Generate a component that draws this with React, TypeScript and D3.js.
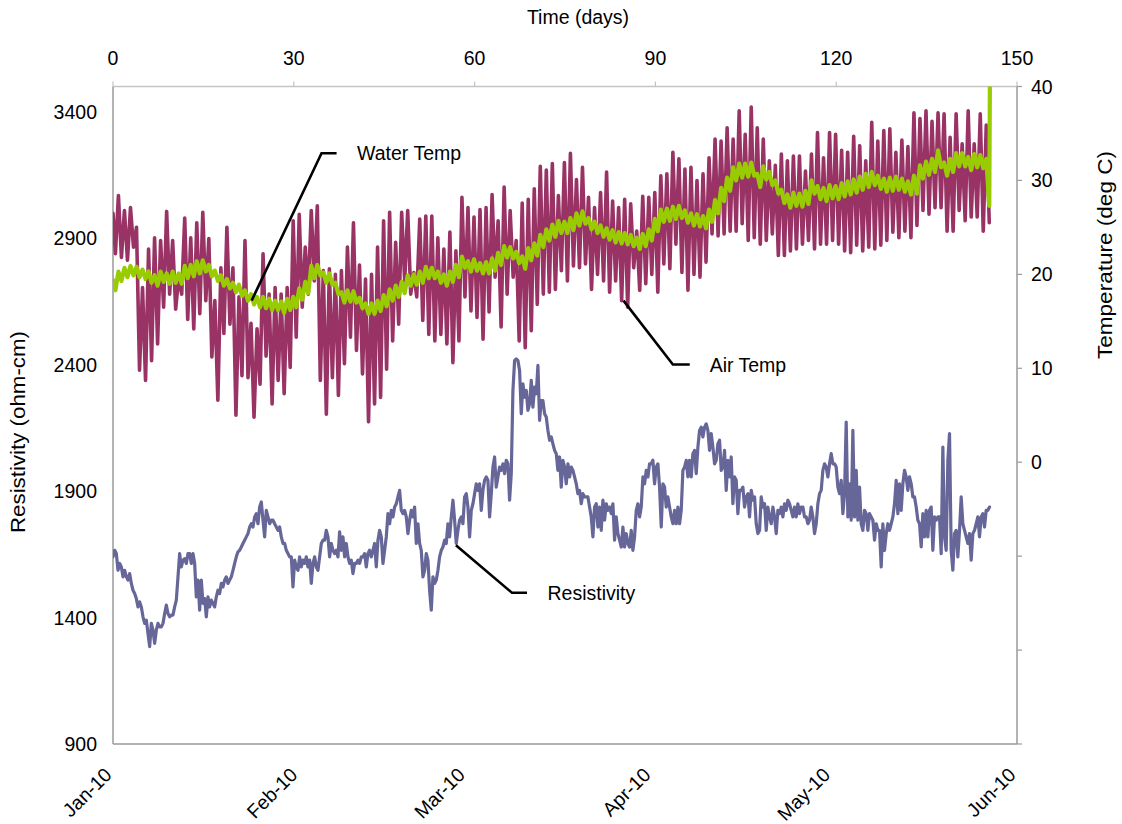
import React from "react";
import * as d3 from "d3";

const W = 1122;
const H = 824;
const PLOT = { left: 113, right: 1017, top: 86.5, bottom: 744 };
const FONT = "'Liberation Sans', Arial, sans-serif";
const FS = 19.5;

// Axis ticks
const dayTicks = [0, 30, 60, 90, 120, 150];
const resistivityTicks = [900, 1400, 1900, 2400, 2900, 3400];
const tempTicks = [-30, -20, -10, 0, 10, 20, 30, 40];
const tempLabelTicks = [0, 10, 20, 30, 40];
const monthTicks = ["2010-01-01", "2010-02-01", "2010-03-01", "2010-04-01", "2010-05-01", "2010-06-01"];

// Daily air temperature extremes (deg C), day 0..145
const airHigh = [
  26.5, 28.4, 26.8, 27.1, 25.0, 18.6, 22.7, 23.9, 23.6, 26.7,
  23.6, 19.7, 26.0, 23.9, 25.5, 26.6, 23.8, 17.2, 20.7, 25.0,
  20.7, 17.6, 23.6, 14.8, 14.2, 22.2, 17.9, 18.6, 17.9, 18.6,
  25.7, 26.4, 22.9, 26.8, 27.3, 20.4, 20.6, 20.0, 20.4, 22.9,
  25.5, 21.0, 19.5, 20.0, 22.9, 25.7, 26.6, 23.4, 26.6, 26.8,
  20.2, 25.9, 26.2, 26.2, 23.9, 22.7, 24.5, 22.5, 28.2, 27.1,
  26.1, 26.9, 27.1, 28.5, 25.7, 29.3, 26.8, 23.6, 27.6, 28.0,
  29.1, 31.5, 31.1, 31.8, 28.4, 31.9, 32.9, 30.1, 31.4, 28.2,
  27.1, 28.7, 30.9, 27.8, 27.1, 28.0, 27.5, 24.6, 28.3, 28.2,
  28.7, 30.5, 30.7, 33.0, 32.3, 31.2, 31.4, 30.0, 30.7, 32.4,
  34.4, 34.2, 35.6, 34.4, 37.4, 34.9, 37.8, 35.6, 34.4, 32.1,
  31.6, 32.8, 32.1, 32.6, 32.6, 31.0, 32.8, 35.1, 32.4, 35.1,
  34.9, 33.2, 33.0, 34.7, 33.7, 32.1, 36.2, 34.2, 35.3, 35.5,
  33.0, 34.3, 33.6, 37.2, 36.6, 37.4, 36.3, 37.2, 37.1, 34.6,
  37.1, 33.9, 37.4, 33.9, 37.1, 35.9,
];
const airLow = [
  22.2, 21.8, 21.5, 22.9, 9.8, 8.7, 10.8, 12.6, 16.5, 17.9,
  16.3, 17.9, 15.2, 14.2, 15.8, 17.2, 11.2, 6.6, 13.7, 14.7,
  5.0, 9.2, 9.0, 4.8, 8.3, 11.3, 6.2, 8.7, 7.3, 10.1,
  13.3, 16.5, 17.9, 19.3, 8.7, 5.1, 9.0, 7.1, 10.5, 13.3,
  11.9, 9.4, 4.3, 6.2, 6.9, 9.9, 12.9, 14.7, 19.3, 17.9,
  17.6, 15.1, 13.6, 12.9, 13.6, 12.6, 10.6, 12.9, 17.6, 16.1,
  15.4, 13.1, 16.0, 19.7, 14.4, 17.9, 19.7, 12.9, 12.2, 14.0,
  16.8, 17.9, 18.1, 18.4, 20.4, 19.3, 20.9, 20.7, 21.1, 18.4,
  20.0, 19.3, 18.1, 19.3, 17.2, 16.5, 20.7, 18.3, 19.0, 20.0,
  18.1, 21.1, 20.6, 23.2, 20.2, 18.3, 20.0, 19.7, 21.3, 24.3,
  24.1, 24.3, 24.6, 24.6, 25.4, 23.6, 23.9, 23.2, 23.6, 24.3,
  22.0, 22.0, 22.5, 22.7, 23.2, 23.6, 22.7, 23.2, 23.2, 23.6,
  23.2, 22.5, 22.3, 23.1, 22.5, 22.9, 22.7, 23.1, 23.6, 24.5,
  23.9, 24.6, 23.9, 25.2, 26.8, 26.4, 27.1, 27.1, 24.6, 24.6,
  26.8, 25.7, 26.1, 26.1, 24.6, 25.5,
];

// Daily water temperature extremes (deg C), day 0..145
const waterHigh = [
  19.4, 20.3, 20.7, 20.9, 20.8, 20.5, 20.3, 19.9, 20.3, 20.1,
  20.3, 20.1, 20.9, 21.0, 21.4, 21.5, 21.0, 20.4, 19.9, 19.5,
  19.1, 18.9, 18.3, 17.9, 17.6, 17.6, 17.4, 17.2, 17.1, 17.4,
  17.6, 18.5, 19.2, 20.9, 21.0, 20.2, 20.1, 19.1, 18.1, 18.3,
  18.2, 17.5, 16.9, 16.9, 17.2, 17.8, 18.4, 18.8, 19.2, 19.9,
  20.0, 20.3, 20.8, 20.7, 20.3, 20.0, 20.3, 21.0, 21.9, 21.4,
  21.6, 21.2, 21.3, 21.7, 22.3, 23.0, 22.9, 22.4, 21.9, 22.8,
  23.3, 24.2, 24.8, 25.3, 25.7, 25.6, 26.0, 26.5, 26.7, 26.0,
  25.6, 25.2, 24.9, 24.7, 24.5, 24.4, 24.2, 23.9, 24.3, 24.8,
  25.9, 26.9, 27.0, 27.2, 27.3, 26.8, 26.5, 26.4, 26.2, 26.9,
  27.9, 29.2, 30.3, 31.4, 31.8, 31.8, 31.9, 30.7, 31.5, 30.9,
  30.0, 29.0, 28.5, 28.7, 28.6, 28.9, 30.0, 29.4, 29.2, 29.5,
  29.4, 29.7, 29.9, 30.1, 30.4, 30.7, 30.9, 30.5, 30.2, 30.3,
  30.4, 30.2, 29.9, 30.5, 31.6, 32.0, 32.3, 33.2, 31.9, 32.3,
  32.9, 32.9, 32.5, 32.8, 32.7, 32.3,
];
const waterLow = [
  18.3, 19.3, 19.7, 19.9, 19.7, 19.5, 19.1, 18.8, 19.2, 19.0,
  19.1, 19.0, 19.6, 19.8, 20.1, 20.3, 19.8, 19.3, 18.8, 18.5,
  18.1, 17.7, 17.2, 16.8, 16.5, 16.4, 16.2, 16.2, 15.9, 16.2,
  16.5, 17.3, 18.0, 19.6, 19.9, 19.1, 18.9, 17.9, 17.0, 17.1,
  17.0, 16.4, 15.8, 15.8, 16.1, 16.6, 17.2, 17.6, 18.0, 18.8,
  18.9, 19.1, 19.6, 19.6, 19.1, 18.8, 19.2, 19.7, 20.7, 20.3,
  20.4, 20.1, 20.1, 20.4, 21.0, 21.8, 21.7, 21.2, 20.6, 21.5,
  22.0, 22.9, 23.6, 24.0, 24.4, 24.4, 24.7, 25.2, 25.4, 24.8,
  24.4, 24.0, 23.7, 23.4, 23.3, 23.2, 23.0, 22.7, 23.0, 23.6,
  24.6, 25.6, 25.7, 25.9, 26.0, 25.5, 25.2, 25.1, 24.9, 25.6,
  26.5, 27.8, 28.9, 30.0, 30.3, 30.4, 30.5, 29.3, 30.1, 29.5,
  28.6, 27.6, 27.1, 27.3, 27.2, 27.5, 28.6, 28.0, 27.8, 28.1,
  28.0, 28.3, 28.5, 28.7, 29.0, 29.3, 29.5, 29.1, 28.8, 28.9,
  29.0, 28.8, 28.5, 28.6, 30.2, 30.6, 30.9, 31.4, 30.5, 30.9,
  31.5, 31.5, 31.1, 31.4, 31.3, 27.3,
];
// Last water reading, logged after the probe came out of the water
const waterLastReading = 40;

// Resistivity readings (ohm-cm), one every RES_STEP days from day 0
const RES_STEP = 0.2765;
const resistivity = [
  1640, 1666, 1653, 1587, 1614, 1600, 1561, 1587, 1561, 1548,
  1574, 1535, 1508, 1495, 1475, 1442, 1462, 1442, 1403, 1377,
  1390, 1337, 1285, 1377, 1350, 1298, 1350, 1377, 1363, 1363,
  1377, 1416, 1449, 1416, 1403, 1410, 1410, 1442, 1469, 1561,
  1653, 1600, 1627, 1633, 1614, 1653, 1653, 1614, 1653, 1614,
  1482, 1548, 1429, 1548, 1456, 1475, 1403, 1482, 1442, 1469,
  1456, 1442, 1482, 1508, 1495, 1535, 1521, 1548, 1561, 1535,
  1548, 1561, 1587, 1614, 1640, 1660, 1666, 1679, 1693, 1706,
  1719, 1732, 1758, 1771, 1758, 1798, 1811, 1771, 1837, 1857,
  1785, 1719, 1824, 1798, 1771, 1785, 1785, 1771, 1758, 1745,
  1758, 1719, 1693, 1693, 1666, 1653, 1640,
  1640, 1521, 1627, 1600, 1587, 1640, 1600, 1627, 1614, 1640,
  1600, 1627, 1535, 1614, 1640, 1600, 1587, 1640, 1693, 1706,
  1706, 1745, 1719, 1640, 1693, 1666, 1653, 1666, 1640, 1739,
  1666, 1719, 1640, 1693, 1640, 1614, 1627, 1574, 1614, 1614,
  1627, 1614, 1640, 1640, 1653, 1600, 1653, 1666, 1640, 1666,
  1693, 1600, 1706, 1745, 1719, 1614, 1666, 1719, 1811, 1771,
  1824, 1798, 1837, 1850, 1877, 1903, 1824, 1811, 1824, 1798,
  1732, 1785, 1824, 1798, 1837, 1693, 1771, 1693, 1666, 1561,
  1587, 1653, 1627, 1508, 1429, 1561, 1535, 1548, 1587, 1640,
  1666, 1679, 1706, 1693, 1771, 1719, 1798, 1864, 1785, 1693,
  1745, 1785, 1798, 1771, 1877, 1890, 1837, 1719,
  1824, 1850, 1890, 1929, 1903, 1929, 1824, 1903, 1943, 1956,
  1943, 1798, 1890, 1995, 2035, 1916, 1956, 1995, 1982, 2008,
  1969, 2022, 2008, 1864, 1969, 2298, 2416, 2423, 2416, 2377,
  2206, 2324, 2272, 2298, 2219, 2245, 2338, 2232, 2311, 2285,
  2397, 2180, 2258, 2258, 2206, 2193, 2140, 2101, 2114, 2087,
  2061, 2048, 1982, 2035, 1916, 2022, 1995, 1929, 2008, 1956,
  1995, 1982, 1956, 1929, 1890, 1903, 1850, 1890, 1877, 1877,
  1877, 1837, 1798, 1719, 1837, 1850, 1758, 1837, 1745, 1864,
  1785, 1850, 1824, 1837, 1811, 1850, 1706, 1798, 1732, 1706,
  1679, 1758, 1679, 1732, 1693, 1679, 1745, 1666, 1719, 1824,
  1850, 1798, 1837, 1956, 1929, 1982, 1956, 2008,
  2008, 2022, 1929, 1995, 2008, 1916, 1758, 1929, 1916, 1837,
  1877, 1837, 1798, 1771, 1824, 1771, 1837, 1771, 1824, 1982,
  1995, 2022, 1956, 2022, 1956, 2048, 2061, 1969, 2074, 2140,
  2153, 2114, 2153, 2166, 2140, 2061, 2127, 2074, 2008, 2022,
  2087, 2101, 1982, 1995, 2061, 1903, 2022, 1956, 2035, 1850,
  1956, 1943, 1811, 1903, 1903, 1916, 1837, 1877, 1890, 1798,
  1903, 1864, 1877, 1771, 1732, 1745, 1877, 1837, 1850, 1745,
  1837, 1798, 1771, 1837, 1798, 1732, 1824, 1811, 1837, 1798,
  1850, 1824, 1864, 1850, 1824, 1798, 1837, 1798, 1850, 1811,
  1837, 1837, 1798, 1798, 1771, 1785, 1837, 1798, 1732, 1771,
  1850, 1890, 1903, 1982, 2008, 1995, 1956, 2008, 2048, 2008,
  2008, 1995, 1916, 1890, 1943, 1811, 1890, 2173, 1798, 1929,
  1785, 2140, 1798, 1982, 1785, 1916, 1771, 1745, 1824, 1811,
  1745, 1811, 1798, 1785, 1706, 1771, 1745, 1745, 1600, 1771,
  1666, 1732, 1771, 1745, 1771, 1798, 1850, 1943, 1811, 1929,
  1824, 1929, 1982, 1956, 1903, 1956, 1929, 1877, 1877, 1837,
  1785, 1771, 1679, 1811, 1719, 1824, 1719, 1824, 1837, 1666,
  1798, 1785, 1798, 1798, 1653, 2074, 1719, 1666, 2022, 2127,
  1666, 1587, 1732, 1745, 1640, 1745, 1877, 1771, 1745, 1719,
  1693, 1732, 1627, 1732, 1745, 1771, 1798, 1719, 1798, 1811,
  1758, 1824, 1824, 1837,
];

type Pt = [number, number];

// Alternating daily high/low pairs: the high comes just before the day mark,
// the low about half a day later.
function dailySwing(high: number[], low: number[]): Pt[] {
  const pts: Pt[] = [];
  high.forEach((h, d) => {
    pts.push([Math.max(0, d - 0.1), h]);
    pts.push([d + 0.4, low[d]]);
  });
  return pts;
}

const airSeries = dailySwing(airHigh, airLow);
const waterSeries: Pt[] = [...dailySwing(waterHigh, waterLow), [waterHigh.length - 0.5, waterLastReading]];
const resistivitySeries: Pt[] = resistivity.map((r, i) => [i * RES_STEP, r]);

// Callouts, in data units
const callouts = [
  { label: "Water Temp", axis: "temp", pts: [[23.0, 17.2], [34.6, 32.9], [37.1, 32.9]] as Pt[], textDay: 40.5, textVal: 32.9 },
  { label: "Air Temp", axis: "temp", pts: [[84.7, 17.2], [92.9, 10.4], [95.7, 10.4]] as Pt[], textDay: 99.0, textVal: 10.4 },
  { label: "Resistivity", axis: "res", pts: [[56.9, 1686], [66.2, 1498], [68.7, 1498]] as Pt[], textDay: 72.1, textVal: 1498 },
];

export default function App() {
  const x = d3.scaleLinear().domain([0, 150]).range([PLOT.left, PLOT.right]);
  const xDate = d3
    .scaleTime()
    .domain([new Date(2010, 0, 1), new Date(2010, 5, 1)])
    .range([PLOT.left, PLOT.right]);
  const yRes = d3.scaleLinear().domain([900, 3500]).range([PLOT.bottom, PLOT.top]);
  const yTemp = d3.scaleLinear().domain([-30, 40]).range([PLOT.bottom, PLOT.top]);
  const fmtMonth = d3.timeFormat("%b-%y");

  const tempLine = d3
    .line<Pt>()
    .x((p) => x(p[0]))
    .y((p) => yTemp(p[1]));
  const resLine = d3
    .line<Pt>()
    .x((p) => x(p[0]))
    .y((p) => yRes(p[1]));

  const axisGrey = "#9a9a9a";

  return (
    <svg
      width={W}
      height={H}
      viewBox={`0 0 ${W} ${H}`}
      style={{ position: "absolute", left: 0, top: 0, background: "#fff" }}
      fontFamily={FONT}
      fontSize={FS}
    >
      <defs>
        <clipPath id="plot-clip">
          <rect x={PLOT.left} y={PLOT.top} width={PLOT.right - PLOT.left} height={PLOT.bottom - PLOT.top} />
        </clipPath>
      </defs>
      <rect width={W} height={H} fill="#fff" />

      {/* axis frame */}
      <line x1={PLOT.left} x2={PLOT.right} y1={PLOT.top} y2={PLOT.top} stroke="#c4c4c4" strokeWidth={1.5} />
      <line x1={PLOT.left} x2={PLOT.left} y1={PLOT.top} y2={PLOT.bottom} stroke={axisGrey} strokeWidth={1.5} />
      <line x1={PLOT.right} x2={PLOT.right} y1={PLOT.top} y2={PLOT.bottom} stroke={axisGrey} strokeWidth={1.5} />
      <line x1={PLOT.left} x2={PLOT.right} y1={PLOT.bottom} y2={PLOT.bottom} stroke={axisGrey} strokeWidth={1.5} />

      {/* top axis: time in days */}
      {dayTicks.map((t) => (
        <g key={`d${t}`}>
          <line x1={x(t)} x2={x(t)} y1={PLOT.top - 5} y2={PLOT.top} stroke="#c4c4c4" strokeWidth={1.2} />
          <text x={x(t)} y={65} textAnchor="middle" fill="#000">
            {t}
          </text>
        </g>
      ))}
      <text x={578} y={24} textAnchor="middle" fill="#000">
        Time (days)
      </text>

      {/* left axis: resistivity */}
      {resistivityTicks.map((t) => (
        <text key={`r${t}`} x={97} y={yRes(t) + 7} textAnchor="end" fill="#000">
          {t}
        </text>
      ))}
      <text
        transform={`translate(25,432) rotate(-90)`}
        textAnchor="middle"
        fill="#000"
        textLength={202}
        lengthAdjust="spacingAndGlyphs"
      >
        Resistivity (ohm-cm)
      </text>

      {/* right axis: temperature */}
      {tempTicks.map((t) => (
        <line key={`tt${t}`} x1={PLOT.right} x2={PLOT.right + 5} y1={yTemp(t)} y2={yTemp(t)} stroke={axisGrey} strokeWidth={1.2} />
      ))}
      {tempLabelTicks.map((t) => (
        <text key={`tl${t}`} x={1031} y={yTemp(t) + 7} textAnchor="start" fill="#000">
          {t}
        </text>
      ))}
      <text
        transform={`translate(1112,255) rotate(-90)`}
        textAnchor="middle"
        fill="#000"
        textLength={208}
        lengthAdjust="spacingAndGlyphs"
      >
        Temperature (deg C)
      </text>

      {/* bottom axis: calendar months */}
      {monthTicks.map((m) => {
        const dt = new Date(m + "T00:00:00");
        const px = xDate(dt);
        return (
          <text key={m} transform={`translate(${px},${776}) rotate(-45)`} textAnchor="end" fill="#000">
            {fmtMonth(dt)}
          </text>
        );
      })}

      {/* series */}
      <g clipPath="url(#plot-clip)" fill="none" strokeLinejoin="round" strokeLinecap="round">
        <path d={tempLine(airSeries) ?? ""} stroke="#993366" strokeWidth={3.6} />
        <path d={tempLine(waterSeries) ?? ""} stroke="#99cc00" strokeWidth={4.2} />
        <path d={resLine(resistivitySeries) ?? ""} stroke="#666699" strokeWidth={3.2} />
      </g>

      {/* callouts */}
      {callouts.map((c) => {
        const y = c.axis === "temp" ? yTemp : yRes;
        const pts = c.pts.map((p) => [x(p[0]), y(p[1])] as Pt);
        return (
          <g key={c.label}>
            <path d={d3.line()(pts) ?? ""} fill="none" stroke="#000" strokeWidth={2.6} />
            <text x={x(c.textDay)} y={y(c.textVal) + 7} fill="#000">
              {c.label}
            </text>
          </g>
        );
      })}
    </svg>
  );
}
